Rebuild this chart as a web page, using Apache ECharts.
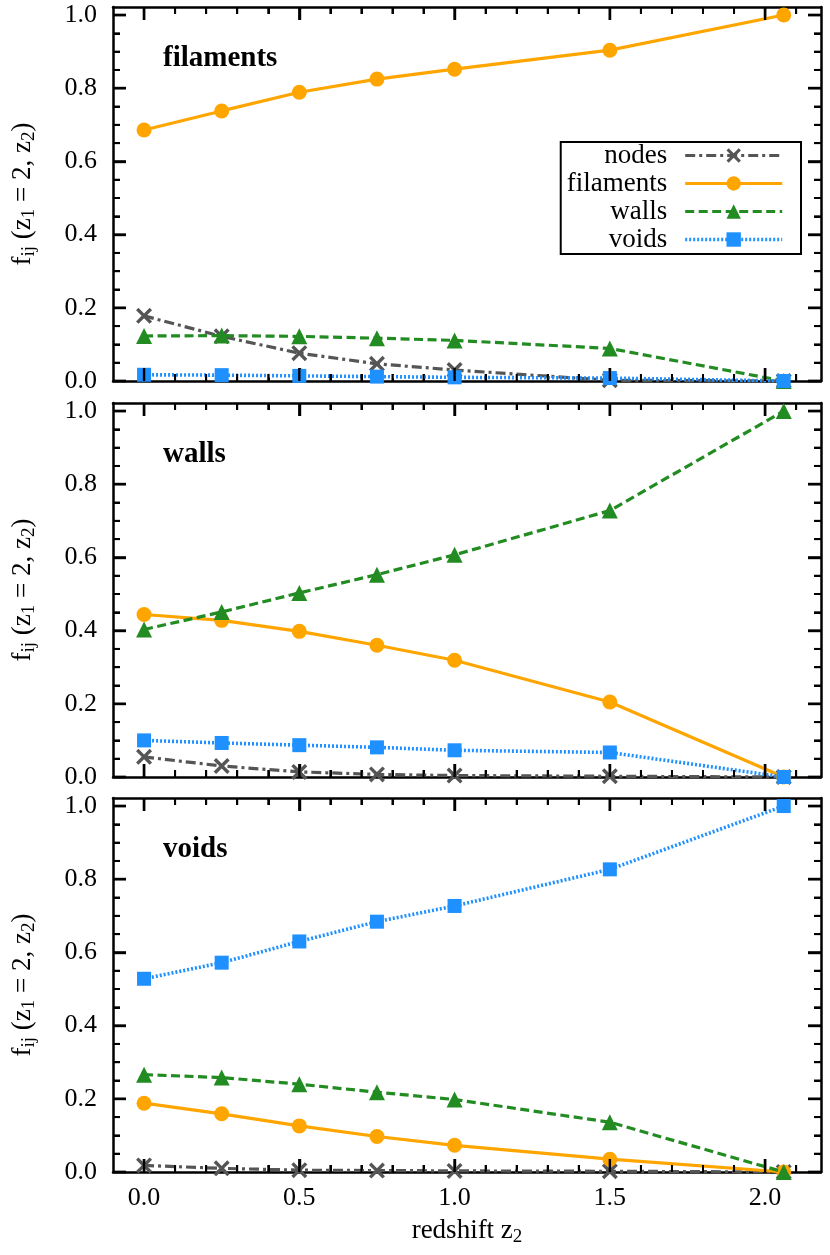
<!DOCTYPE html>
<html lang="en">
<head>
<meta charset="utf-8">
<title>f_ij(z1 = 2, z2) by environment</title>
<script src="https://cdn.jsdelivr.net/npm/echarts@6/dist/echarts.min.js"></script>
<style>
html, body { margin: 0; padding: 0; background: #fff; }
#chart { width: 830px; height: 1255px; }
</style>
</head>
<body>
<div id="chart"></div>
<script>
// three stacked panels: fraction of each environment at z1 = 2 found in each class at z2
var redshift = [0, 0.25, 0.5, 0.75, 1.0, 1.5, 2.06];
var panelNames = ['filaments', 'walls', 'voids'];
var seriesNames = ['nodes', 'filaments', 'walls', 'voids'];

var xMajorTicks = [0, 0.5, 1.0, 1.5, 2.0];
var xMinorTicks = [0.1, 0.2, 0.3, 0.4, 0.6, 0.7, 0.8, 0.9, 1.1, 1.2, 1.3, 1.4, 1.6, 1.7, 1.8, 1.9, 2.1];
var yMajorTicks = [0, 0.2, 0.4, 0.6, 0.8, 1.0];
var yMinorTicks = [0.05, 0.1, 0.15, 0.25, 0.3, 0.35, 0.45, 0.5, 0.55, 0.65, 0.7, 0.75, 0.85, 0.9, 0.95];

// panel 1: filaments at z1 = 2
var filNodes = [0.178, 0.122, 0.076, 0.047, 0.030, 0.002, 0.0];
var filFilaments = [0.686, 0.738, 0.789, 0.825, 0.852, 0.904, 1.0];
var filWalls = [0.123, 0.124, 0.122, 0.117, 0.111, 0.089, 0.0];
var filVoids = [0.017, 0.016, 0.014, 0.012, 0.010, 0.008, 0.0];

// panel 2: walls at z1 = 2
var walNodes = [0.055, 0.030, 0.014, 0.007, 0.004, 0.002, 0.0];
var walFilaments = [0.444, 0.428, 0.398, 0.360, 0.319, 0.205, 0.0];
var walWalls = [0.403, 0.451, 0.503, 0.553, 0.607, 0.728, 1.0];
var walVoids = [0.100, 0.093, 0.087, 0.081, 0.073, 0.067, 0.0];

// panel 3: voids at z1 = 2
var voiNodes = [0.018, 0.010, 0.005, 0.004, 0.003, 0.002, 0.0];
var voiFilaments = [0.188, 0.159, 0.126, 0.097, 0.073, 0.035, 0.0];
var voiWalls = [0.266, 0.258, 0.240, 0.218, 0.198, 0.136, 0.0];
var voiVoids = [0.528, 0.572, 0.630, 0.684, 0.727, 0.827, 1.0];

var panelData = [
  [filNodes, filFilaments, filWalls, filVoids],
  [walNodes, walFilaments, walWalls, walVoids],
  [voiNodes, voiFilaments, voiWalls, voiVoids]
];

var font = 'Liberation Serif';
var colors = ['#555555', '#ffa500', '#228b22', '#1e90ff'];
var symbols = [
  'path://M1.5,0L5,3.5L8.5,0L10,1.5L6.5,5L10,8.5L8.5,10L5,6.5L1.5,10L0,8.5L3.5,5L0,1.5Z',
  'circle', 'triangle', 'rect'
];
var symbolSizes = [16, 15, 16, 14];
var dashes = [[10, 4, 3, 4], 'solid', [9, 4.5], [2, 2]];
var lineWidths = [3.2, 3.2, 3.2, 3.6];

var majorLen = 13, minorLen = 7;
var gridTops = [7, 403, 798];
var gridHeight = 374;
var xMin = -0.1, xMax = 2.18, yMin = 0, yMax = 1.022;

var richSub = {
  sub: { fontFamily: font, fontSize: 19, color: '#000', padding: [14, 0, 0, 0] }
};

function frameLine() {
  return { show: true, onZero: false, lineStyle: { color: '#000', width: 2.5 } };
}

// tick marks as small rects placed by the axes
function tickItems() {
  var items = [];
  function add(value, w, h, dx, dy) {
    items.push({ value: value, symbol: 'rect', symbolSize: [w, h], symbolOffset: [dx, dy] });
  }
  yMajorTicks.forEach(function (v) {
    add([xMin, v], majorLen, 2.4, majorLen / 2, 0);
    add([xMax, v], majorLen, 2.4, -majorLen / 2, 0);
  });
  yMinorTicks.forEach(function (v) {
    add([xMin, v], minorLen, 2, minorLen / 2, 0);
    add([xMax, v], minorLen, 2, -minorLen / 2, 0);
  });
  xMajorTicks.forEach(function (v) {
    add([v, yMin], 2.4, majorLen, 0, -majorLen / 2);
    add([v, yMax], 2.4, majorLen, 0, majorLen / 2);
  });
  xMinorTicks.forEach(function (v) {
    add([v, yMin], 2, minorLen, 0, -minorLen / 2);
    add([v, yMax], 2, minorLen, 0, minorLen / 2);
  });
  return items;
}

var grids = [], xAxes = [], yAxes = [], series = [], titles = [];

gridTops.forEach(function (top, g) {
  var base = g * 4;
  grids.push({ left: 113, right: 9, top: top, height: gridHeight });

  ['bottom', 'top'].forEach(function (pos) {
    var isLabelled = pos === 'bottom' && g === 2;
    xAxes.push({
      gridIndex: g, type: 'value', position: pos, min: xMin, max: xMax,
      axisLine: frameLine(),
      axisTick: { show: true, inside: true, length: majorLen, customValues: xMajorTicks,
        lineStyle: { color: '#000', width: 2.4 } },
      axisLabel: { show: isLabelled, customValues: xMajorTicks, margin: 13,
        fontFamily: font, fontSize: 26, color: '#000',
        formatter: function (v) { return v.toFixed(1); } },
      splitLine: { show: false },
      name: isLabelled ? 'redshift z{sub|2}' : '',
      nameLocation: 'middle', nameGap: 42,
      nameTextStyle: { fontFamily: font, fontSize: 27, color: '#000', rich: richSub }
    });
    xAxes.push({
      gridIndex: g, type: 'value', position: pos, min: xMin, max: xMax,
      axisLine: { show: false, onZero: false },
      axisTick: { show: true, inside: true, length: minorLen, customValues: xMinorTicks,
        lineStyle: { color: '#000', width: 2 } },
      axisLabel: { show: false },
      splitLine: { show: false }
    });
  });

  ['left', 'right'].forEach(function (pos) {
    var isLeft = pos === 'left';
    yAxes.push({
      gridIndex: g, type: 'value', position: pos, min: yMin, max: yMax,
      axisLine: frameLine(),
      axisTick: { show: true, inside: true, length: majorLen, customValues: yMajorTicks,
        lineStyle: { color: '#000', width: 2.4 } },
      axisLabel: { show: isLeft, customValues: yMajorTicks, margin: 16,
        fontFamily: font, fontSize: 26, color: '#000',
        formatter: function (v) { return v.toFixed(1); } },
      splitLine: { show: false },
      name: isLeft ? 'f{sub|ij} (z{sub|1} = 2, z{sub|2})' : '',
      nameLocation: 'middle', nameGap: 74,
      nameTextStyle: { fontFamily: font, fontSize: 27, color: '#000', rich: richSub }
    });
    yAxes.push({
      gridIndex: g, type: 'value', position: pos, min: yMin, max: yMax,
      axisLine: { show: false, onZero: false },
      axisTick: { show: true, inside: true, length: minorLen, customValues: yMinorTicks,
        lineStyle: { color: '#000', width: 2 } },
      axisLabel: { show: false },
      splitLine: { show: false }
    });
  });

  titles.push({
    text: panelNames[g], left: 163, top: top + 37, padding: 0,
    textStyle: { fontFamily: font, fontSize: 29, fontWeight: 'bold', color: '#000' }
  });

  series.push({
    name: 'ticks' + g, type: 'line', xAxisIndex: base, yAxisIndex: base,
    data: tickItems(), showAllSymbol: true, clip: false, silent: true,
    itemStyle: { color: '#000', opacity: 1 },
    lineStyle: { width: 0, opacity: 0 },
    emphasis: { disabled: true }, z: 6
  });

  panelData[g].forEach(function (vals, s) {
    series.push({
      name: seriesNames[s], type: 'line',
      xAxisIndex: base, yAxisIndex: base,
      data: redshift.map(function (x, i) { return [x, vals[i]]; }),
      symbol: symbols[s], symbolSize: symbolSizes[s], showAllSymbol: true,
      itemStyle: { color: colors[s], opacity: 1 },
      lineStyle: { color: colors[s], width: lineWidths[s], type: dashes[s] },
      z: 2 + s
    });
  });
});

var myChart = echarts.init(document.getElementById('chart'));
myChart.setOption({
  animation: false,
  backgroundColor: '#fff',
  textStyle: { fontFamily: font, color: '#000' },
  title: titles,
  grid: grids,
  xAxis: xAxes,
  yAxis: yAxes,
  legend: {
    data: seriesNames, orient: 'vertical', align: 'right',
    right: 29, top: 142, itemWidth: 97, itemHeight: 18, itemGap: 1,
    padding: [0, 17, 1, 6], backgroundColor: '#fff',
    borderColor: '#000', borderWidth: 2, borderRadius: 0,
    selectedMode: false, z: 20,
    lineStyle: { width: 'inherit' },
    textStyle: { fontFamily: font, fontSize: 27, color: '#000', padding: [0, 13, 0, 0] }
  },
  series: series
});
</script>
</body>
</html>
